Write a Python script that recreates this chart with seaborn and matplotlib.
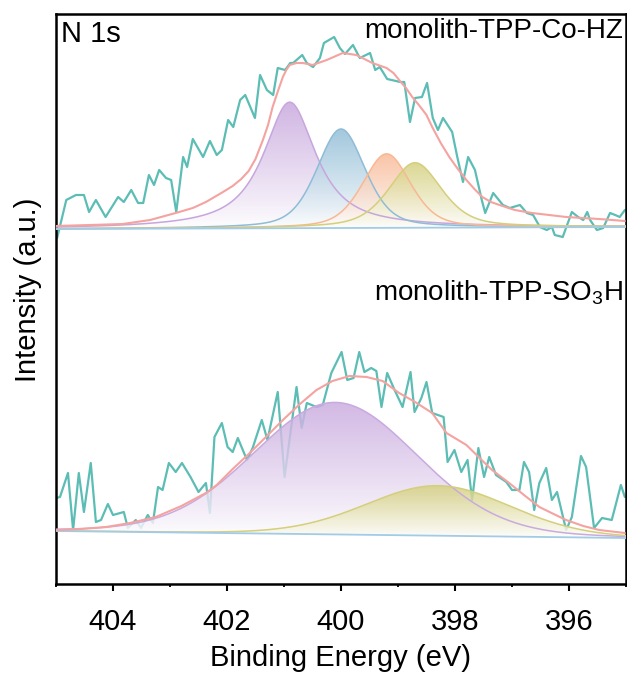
import numpy as np
import pandas as pd
import matplotlib
matplotlib.use("Agg")
import matplotlib.pyplot as plt
import matplotlib.colors as mcolors
from matplotlib.patches import Polygon
from matplotlib.ticker import MultipleLocator
import seaborn as sns

# ---------------- data ----------------
# monolith-TPP-Co-HZ, raw N 1s counts (arb. units above baseline)
co_energy = [404.98, 404.82, 404.65, 404.51, 404.42, 404.30, 404.13, 403.91, 403.81, 403.68,
             403.56, 403.47, 403.37, 403.28, 403.19, 403.07, 402.98, 402.89, 402.77, 402.70,
             402.60, 402.42, 402.30, 402.18, 402.09, 401.98, 401.89, 401.77, 401.68, 401.51,
             401.42, 401.30, 401.19, 401.11, 400.98, 400.89, 400.84, 400.68, 400.60, 400.49,
             400.37, 400.30, 400.12, 400.02, 399.93, 399.79, 399.67, 399.49, 399.40, 399.32,
             399.19, 398.96, 398.89, 398.79, 398.70, 398.58, 398.49, 398.39, 398.30, 398.21,
             398.05, 397.96, 397.86, 397.77, 397.65, 397.53, 397.47, 397.33, 397.16, 397.04,
             396.86, 396.74, 396.63, 396.51, 396.39, 396.30, 396.25, 396.11, 395.95, 395.84,
             395.75, 395.68, 395.63, 395.51, 395.40, 395.28, 395.19, 395.11, 395.02]
co_counts = [-9, 29, 34, 34, 17, 29, 12, 32, 27, 39,
             26, 26, 54, 44, 59, 51, 49, 17, 72, 62,
             90, 72, 88, 74, 79, 109, 102, 129, 134, 111,
             154, 139, 134, 161, 159, 166, 166, 174, 166, 162,
             171, 186, 192, 181, 175, 184, 171, 176, 159, 162,
             150, 147, 147, 107, 131, 132, 146, 111, 99, 111,
             97, 72, 47, 72, 59, 29, 16, 36, 24, 21,
             24, 16, 14, 2, -1, 2, -6, -8, 17, 12,
             9, 17, 9, -1, 1, 16, 14, 12, 19]
# fitted envelope
co_env_energy = [405.00, 404.40, 403.83, 403.35, 402.90, 402.60, 402.37, 402.10, 401.90, 401.75,
                 401.62, 401.50, 401.37, 401.28, 401.20, 401.10, 401.02, 400.96, 400.90, 400.78,
                 400.67, 400.50, 400.25, 399.97, 399.73, 399.45, 399.20, 399.08, 398.98, 398.86,
                 398.75, 398.62, 398.50, 398.40, 398.25, 398.10, 397.95, 397.80, 397.66, 397.52,
                 397.37, 397.22, 396.95, 396.65, 396.35, 396.05, 395.47, 395.02]
co_env_counts = [3, 4, 5, 9, 16, 21, 27, 36, 43, 50,
                 58, 70, 89, 104, 122, 139, 152, 159, 164, 166,
                 166, 164, 169, 176, 174, 166, 161, 156, 149, 141,
                 132, 123, 114, 102, 86, 72, 60, 49, 40, 32,
                 27, 24, 19, 16, 14, 12, 10, 8]
# fitted components: centre (eV), height, FWHM (eV), Lorentzian fraction
co_centers = [400.9, 400.0, 399.2, 398.7]
co_heights = [126, 99, 74, 65]
co_fwhm = [1.1, 1.0, 1.0, 1.1]
co_eta = [0.9, 0.4, 0.4, 0.5]
co_bg = [0, 2]            # background at 405 eV and 395 eV

# monolith-TPP-SO3H
so_energy = [405.00, 404.93, 404.79, 404.70, 404.60, 404.51, 404.39, 404.30, 404.21, 404.09,
             404.00, 403.81, 403.74, 403.60, 403.51, 403.39, 403.30, 403.21, 403.13, 403.02,
             402.90, 402.79, 402.64, 402.50, 402.37, 402.30, 402.22, 402.09, 401.99, 401.90,
             401.81, 401.65, 401.55, 401.39, 401.29, 401.11, 400.99, 400.78, 400.69, 400.60,
             400.43, 400.32, 400.17, 399.99, 399.89, 399.78, 399.68, 399.59, 399.47, 399.38,
             399.29, 399.19, 399.06, 398.92, 398.78, 398.71, 398.59, 398.50, 398.40, 398.20,
             398.13, 398.01, 397.89, 397.78, 397.70, 397.59, 397.49, 397.40, 397.28, 397.10,
             397.00, 396.87, 396.79, 396.70, 396.61, 396.52, 396.40, 396.30, 396.21, 396.05,
             395.95, 395.79, 395.70, 395.56, 395.42, 395.25, 395.09, 395.02]
so_counts = [33, 34, 58, 1, 58, 19, 68, 9, 11, 27,
             16, 19, 3, 11, 3, 16, 8, 44, 41, 68,
             59, 68, 54, 39, 48, 18, 94, 108, 84, 79,
             93, 71, 83, 111, 91, 139, 54, 144, 103, 128,
             124, 126, 158, 179, 151, 153, 179, 159, 163, 160,
             124, 158, 141, 124, 159, 119, 133, 149, 118, 114,
             69, 81, 59, 71, 31, 83, 54, 74, 56, 49,
             41, 41, 69, 59, 21, 48, 63, 31, 39, 1,
             14, 75, 64, 3, 13, 11, 46, 34]
so_env_energy = [405.00, 404.56, 404.12, 403.70, 403.25, 402.80, 402.37, 402.18, 401.90, 401.60,
                 401.30, 401.02, 400.72, 400.43, 400.15, 399.85, 399.55, 399.27, 398.98, 398.70,
                 398.40, 398.15, 397.80, 397.55, 397.35, 397.05, 396.79, 396.52, 396.27, 396.05,
                 395.75, 395.47, 395.02]
so_env_counts = [1, 2, 4, 8, 14, 25, 38, 46, 62, 78,
                 95, 111, 127, 141, 150, 155, 154, 150, 138, 129,
                 118, 98, 86, 72, 61, 48, 36, 24, 17, 11,
                 5, 1, -2]
so_centers = [400.1, 398.3]
so_heights = [132, 50]
so_fwhm = [3.4, 3.0]
so_eta = [0.1, 0.1]
so_bg = [0, -7]

offsets = {"co": 355, "so": 53}

# ---------------- style ----------------
sns.set_style("ticks")
plt.rcParams["font.family"] = ["Liberation Sans", "DejaVu Sans"]
plt.rcParams["mathtext.fontset"] = "custom"
plt.rcParams["mathtext.rm"] = "Liberation Sans"
plt.rcParams["mathtext.default"] = "regular"
plt.rcParams["text.color"] = "black"
plt.rcParams["axes.labelcolor"] = "black"
plt.rcParams["xtick.color"] = "black"

teal = "#5cbdb5"
env_col = "#f4a3a0"
bg_col = "#a2cbe6"
co_colors = ["#c7a6dd", "#8fbcd6", "#f8b894", "#d4cf7c"]
so_colors = ["#c9aadf", "#d4cf7c"]


def pseudo_voigt(x, c, h, fwhm, eta):
    u = (x - c) / (fwhm / 2.0)
    return h * (eta / (1.0 + u ** 2) + (1.0 - eta) * np.exp(-np.log(2.0) * u ** 2))


def gradient_fill(ax, x, base, top, color, zorder):
    verts = np.column_stack([np.r_[x, x[::-1]], np.r_[top, base[::-1]]])
    poly = Polygon(verts, closed=True, facecolor="none", edgecolor="none")
    ax.add_patch(poly)
    rgb = np.array(mcolors.to_rgb(color))
    t = np.linspace(0, 1, 256)[:, None] ** 0.9
    col = (1 - t) * np.array([1.0, 1.0, 1.0]) + t * rgb
    rgba = np.concatenate([col, np.full((256, 1), 0.82)], axis=1)[:, None, :]
    im = ax.imshow(rgba, extent=[x.max(), x.min(), base.min(), top.max()],
                   origin="lower", aspect="auto", interpolation="bilinear", zorder=zorder)
    im.set_clip_path(poly)


fig = plt.figure(figsize=(6.27, 6.8), dpi=100)
ax = fig.add_axes([56 / 627, 96 / 680, 570 / 627, 570 / 680])

grid = np.linspace(405, 395, 1201)


def draw_spectrum(key, energy, counts, env_e, env_c, centers, heights, fwhm, eta, bg, colors):
    off = offsets[key]
    base = off + np.interp(grid, [395, 405], [bg[1], bg[0]])
    raw = pd.DataFrame({"BE": energy, "I": np.array(counts) + off})
    sns.lineplot(data=raw, x="BE", y="I", color=teal, lw=1.6, estimator=None,
                 sort=False, ax=ax, zorder=1)
    for i, (c, h, w, e) in enumerate(zip(centers, heights, fwhm, eta)):
        comp = pseudo_voigt(grid, c, h, w, e)
        gradient_fill(ax, grid, base, base + comp, colors[i], zorder=2 + i * 0.1)
        cdf = pd.DataFrame({"BE": grid, "I": base + comp})
        sns.lineplot(data=cdf, x="BE", y="I", color=colors[i], lw=1.1, estimator=None,
                     sort=False, ax=ax, zorder=3)
    bdf = pd.DataFrame({"BE": grid, "I": base})
    sns.lineplot(data=bdf, x="BE", y="I", color=bg_col, lw=1.3, estimator=None,
                 sort=False, ax=ax, zorder=3.5)
    edf = pd.DataFrame({"BE": env_e, "I": np.array(env_c) + off})
    sns.lineplot(data=edf, x="BE", y="I", color=env_col, lw=1.5, estimator=None,
                 sort=False, ax=ax, zorder=4)


draw_spectrum("co", co_energy, co_counts, co_env_energy, co_env_counts,
              co_centers, co_heights, co_fwhm, co_eta, co_bg, co_colors)
draw_spectrum("so", so_energy, so_counts, so_env_energy, so_env_counts,
              so_centers, so_heights, so_fwhm, so_eta, so_bg, so_colors)

ax.set_xlim(405, 395)
ax.set_ylim(0, 570)
ax.set_yticks([])
ax.xaxis.set_major_locator(MultipleLocator(2))
ax.xaxis.set_minor_locator(MultipleLocator(1))
ax.tick_params(axis="x", which="major", direction="out", length=5, width=1.5,
               labelsize=21, pad=12, colors="black")
ax.tick_params(axis="x", which="minor", direction="out", length=2.5, width=1.3)
for s in ax.spines.values():
    s.set_linewidth(1.8)
    s.set_color("black")
ax.set_xlabel("Binding Energy (eV)", fontsize=21, labelpad=6, color="black")
ax.set_ylabel("")
fig.text(28 / 627, 1 - 290 / 680, "Intensity (a.u.)", rotation=90, fontsize=21,
         ha="center", va="center", color="black")

ax.text(0.009, 0.951, "N 1s", transform=ax.transAxes, fontsize=21, ha="left",
        va="baseline", color="black")
ax.text(0.995, 0.958, "monolith-TPP-Co-HZ", transform=ax.transAxes, fontsize=20,
        ha="right", va="baseline", color="black")
ax.text(0.995, 0.498, "monolith-TPP-SO$_3$H", transform=ax.transAxes, fontsize=20,
        ha="right", va="baseline", color="black")

fig.savefig("out.png", dpi=100)
